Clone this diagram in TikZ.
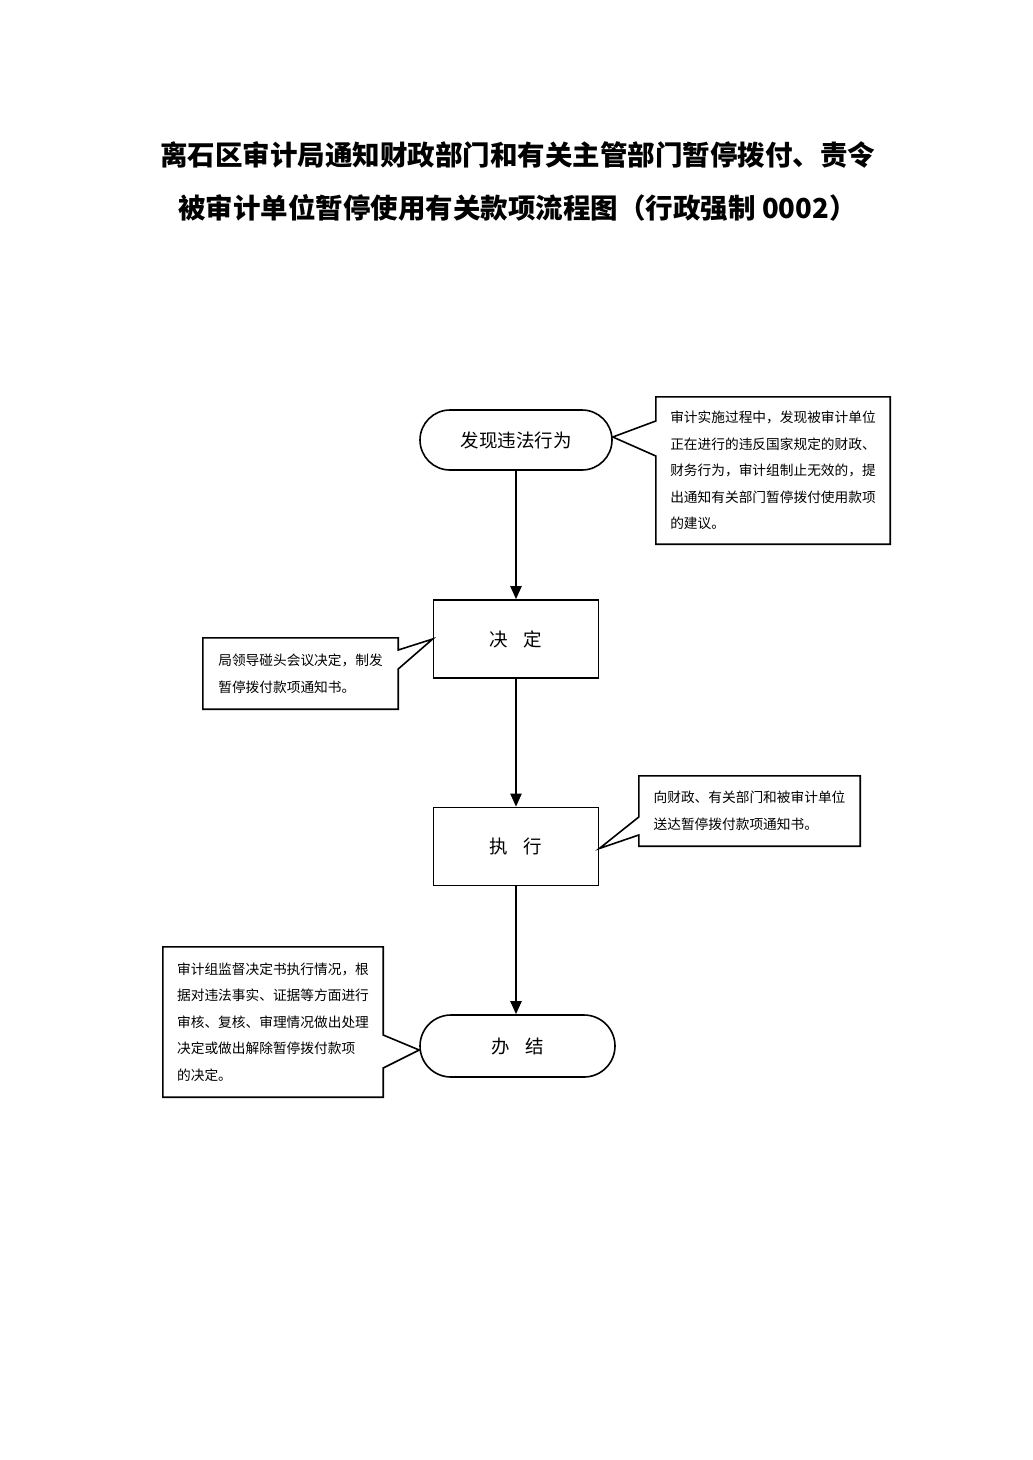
\documentclass[tikz,border=0pt]{standalone}
\usepackage{fontspec}
\setmainfont{Noto Sans CJK SC}
\newfontfamily\cjk{Noto Sans CJK SC}
\usetikzlibrary{arrows.meta}
\tikzset{
  term/.style={draw, line width=1.6pt, rounded corners=30pt, minimum width=192pt, minimum height=60pt, inner sep=0pt, font=\cjk\fontsize{18.5}{18.5}\selectfont, execute at begin node={\spaceskip=0.85em\relax}},
  proc/.style={draw, line width=1.6pt, minimum width=165pt, minimum height=78pt, inner sep=0pt, font=\cjk\fontsize{18.5}{18.5}\selectfont, execute at begin node={\spaceskip=0.85em\relax}},
  cbox/.style={inner sep=0pt, align=left, font=\cjk\fontsize{13.7}{26.6}\selectfont},
  cline/.style={line width=1.6pt, line join=miter},
  flow/.style={line width=2pt, -{Triangle[length=13pt,width=11pt]}},
  ttl/.style={inner sep=0pt, font=\cjk\bfseries\fontsize{27.5}{27.5}\selectfont}
}
\begin{document}
\begin{tikzpicture}[x=1pt,y=-1pt]
\useasboundingbox[fill=white] (0,0) rectangle (1033,1460);
% title
\node[ttl] (t1) at (517.5,155) {离石区审计局通知财政部门和有关主管部门暂停拨付、责令};
\node[ttl] (t2) at (517.5,208) {被审计单位暂停使用有关款项流程图（行政强制 0002）};
% main flow
\node[term] (n1) at (516,440) {发现违法行为};
\node[proc] (b1) at (516,639) {决 定};
\node[proc] (b2) at (516,846.5) {执 行};
\node[term, minimum width=195pt, minimum height=62pt, rounded corners=31pt] (n4) at (517.5,1046) {办 结};
\draw[flow] (n1.south) -- (b1.north);
\draw[flow] (b1.south) -- (b2.north);
\draw[flow] (b2.south) -- (n4.north -| b2.south);
% callout 1
\node[cbox, minimum width=234pt, minimum height=147pt] (c1) at (773,470.5) {审计实施过程中，发现被审计单位\\正在进行的违反国家规定的财政、\\财务行为，审计组制止无效的，提\\出通知有关部门暂停拨付使用款项\\的建议。};
\draw[cline] (c1.north west) -- (c1.north east) -- (c1.south east) -- (c1.south west)
  -- (c1.west |- 0,456) -- ([yshift=3pt]n1.east) -- (c1.west |- 0,421) -- cycle;
% callout 2
\node[cbox, minimum width=195pt, minimum height=71pt] (c2) at (300.5,673.5) {局领导碰头会议决定，制发\\暂停拨付款项通知书。};
\draw[cline] (c2.north west) -- (c2.north east) -- (c2.east |- 0,650) -- (b1.west)
  -- (c2.east |- 0,669) -- (c2.south east) -- (c2.south west) -- cycle;
% callout 3
\node[cbox, minimum width=221pt, minimum height=70pt] (c3) at (749.5,811) {向财政、有关部门和被审计单位\\送达暂停拨付款项通知书。};
\draw[cline] (c3.north west) -- (c3.north east) -- (c3.south east) -- (c3.south west)
  -- (c3.west |- 0,835) -- ([yshift=-2pt]b2.east) -- (c3.west |- 0,817) -- cycle;
% callout 4
\node[cbox, minimum width=220pt, minimum height=150pt] (c4) at (273,1022) {审计组监督决定书执行情况，根\\据对违法事实、证据等方面进行\\审核、复核、审理情况做出处理\\决定或做出解除暂停拨付款项\\的决定。};
\draw[cline] (c4.north west) -- (c4.north east) -- (c4.east |- 0,1035) -- ([yshift=-4pt]n4.west)
  -- (c4.east |- 0,1068) -- (c4.south east) -- (c4.south west) -- cycle;
\end{tikzpicture}
\end{document}
